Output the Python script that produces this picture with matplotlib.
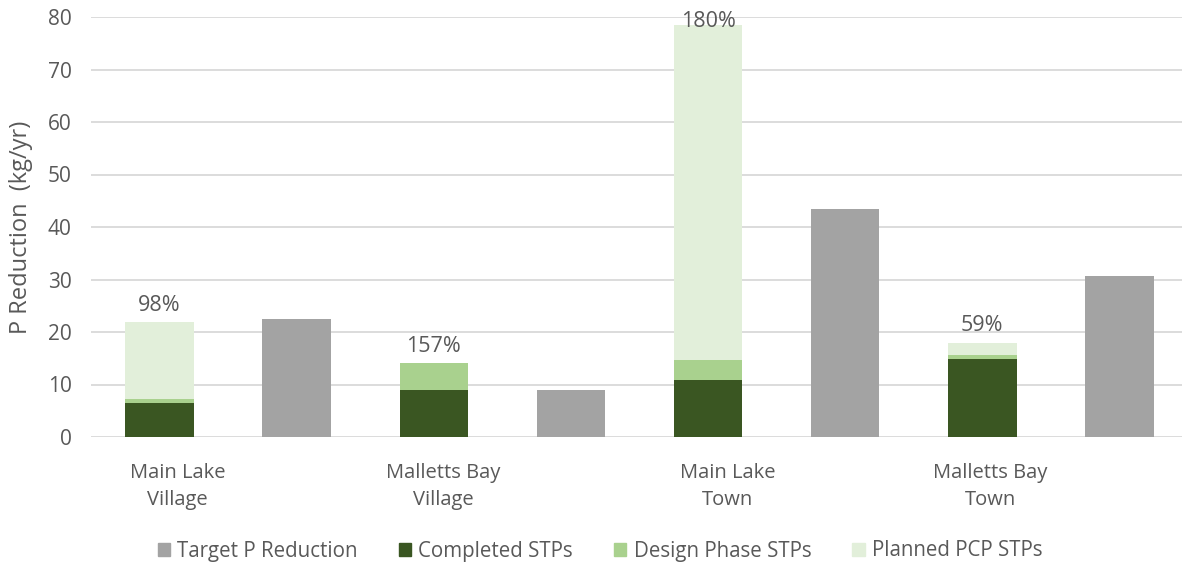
import matplotlib
matplotlib.use("Agg")
import matplotlib.pyplot as plt
from matplotlib.patches import Patch
import numpy as np

# P reduction by area (kg/yr)
areas = ["Main Lake\nVillage", "Malletts Bay\nVillage", "Main Lake\nTown", "Malletts Bay\nTown"]
target = [22.4, 9.0, 43.5, 30.7]
completed = [6.4, 9.0, 10.8, 14.8]
design = [0.9, 5.1, 3.8, 0.9]
planned = [14.6, 0.0, 63.8, 2.3]

C_TARGET = "#A3A3A3"
C_COMPLETED = "#3A5622"
C_DESIGN = "#A9D18E"
C_PLANNED = "#E2EFDA"
TEXT = "#595959"

plt.rcParams["font.family"] = ["Open Sans", "DejaVu Sans"]

fig = plt.figure(figsize=(11.82, 5.63), dpi=100)
ax = fig.add_axes([91 / 1182, 126 / 563, 1097 / 1182, 420 / 563])

n = len(areas)
x_stack = np.arange(n) * 2
x_target = x_stack + 1
w = 0.5

completed = np.array(completed)
design = np.array(design)
planned = np.array(planned)
target = np.array(target)

ax.bar(x_target, target, w, color=C_TARGET, zorder=2)
ax.bar(x_stack, completed, w, color=C_COMPLETED, zorder=2)
ax.bar(x_stack, design, w, bottom=completed, color=C_DESIGN, zorder=2)
ax.bar(x_stack, planned, w, bottom=completed + design, color=C_PLANNED, zorder=2)

# percent of target met, printed over each stacked bar
totals = completed + design + planned
for xs, tot, tg in zip(x_stack, totals, target):
    ax.text(xs, min(tot + 3.2, 79.2), f"{tot / tg:.0%}", ha="center", va="center",
            fontsize=15.5, color=TEXT, zorder=3)

ax.set_xlim(-0.5, 2 * n - 0.5)
ax.set_ylim(0, 80)
ax.set_yticks(range(0, 81, 10))
ax.yaxis.grid(True, color="#D9D9D9", linewidth=1.3, zorder=0)
ax.tick_params(axis="y", length=0, pad=14, labelsize=15, labelcolor=TEXT)
for s in ax.spines.values():
    s.set_visible(False)

# category labels sit a bit right of the stacked bars
label_shift = [0.13, 0.07, 0.14, 0.06]
ax.set_xticks(x_stack + np.array(label_shift))
ax.set_xticklabels(areas, fontsize=14.5, color=TEXT, linespacing=1.45)
ax.tick_params(axis="x", length=0, pad=19)

ax.set_ylabel("P Reduction  (kg/yr)", fontsize=17, color=TEXT)
ax.yaxis.set_label_coords(-0.053, 0.5)

handles = [
    Patch(color=C_TARGET, label="Target P Reduction"),
    Patch(color=C_COMPLETED, label="Completed STPs"),
    Patch(color=C_DESIGN, label="Design Phase STPs"),
    Patch(color=C_PLANNED, label="Planned PCP STPs"),
]
fig.legend(handles=handles, loc="center", bbox_to_anchor=(600 / 1182, 12 / 563),
           ncol=4, frameon=False, fontsize=14.8, labelcolor=TEXT,
           handlelength=0.6, handleheight=0.6, handletextpad=0.35, columnspacing=2.0)

fig.savefig("out.png", dpi=100)
